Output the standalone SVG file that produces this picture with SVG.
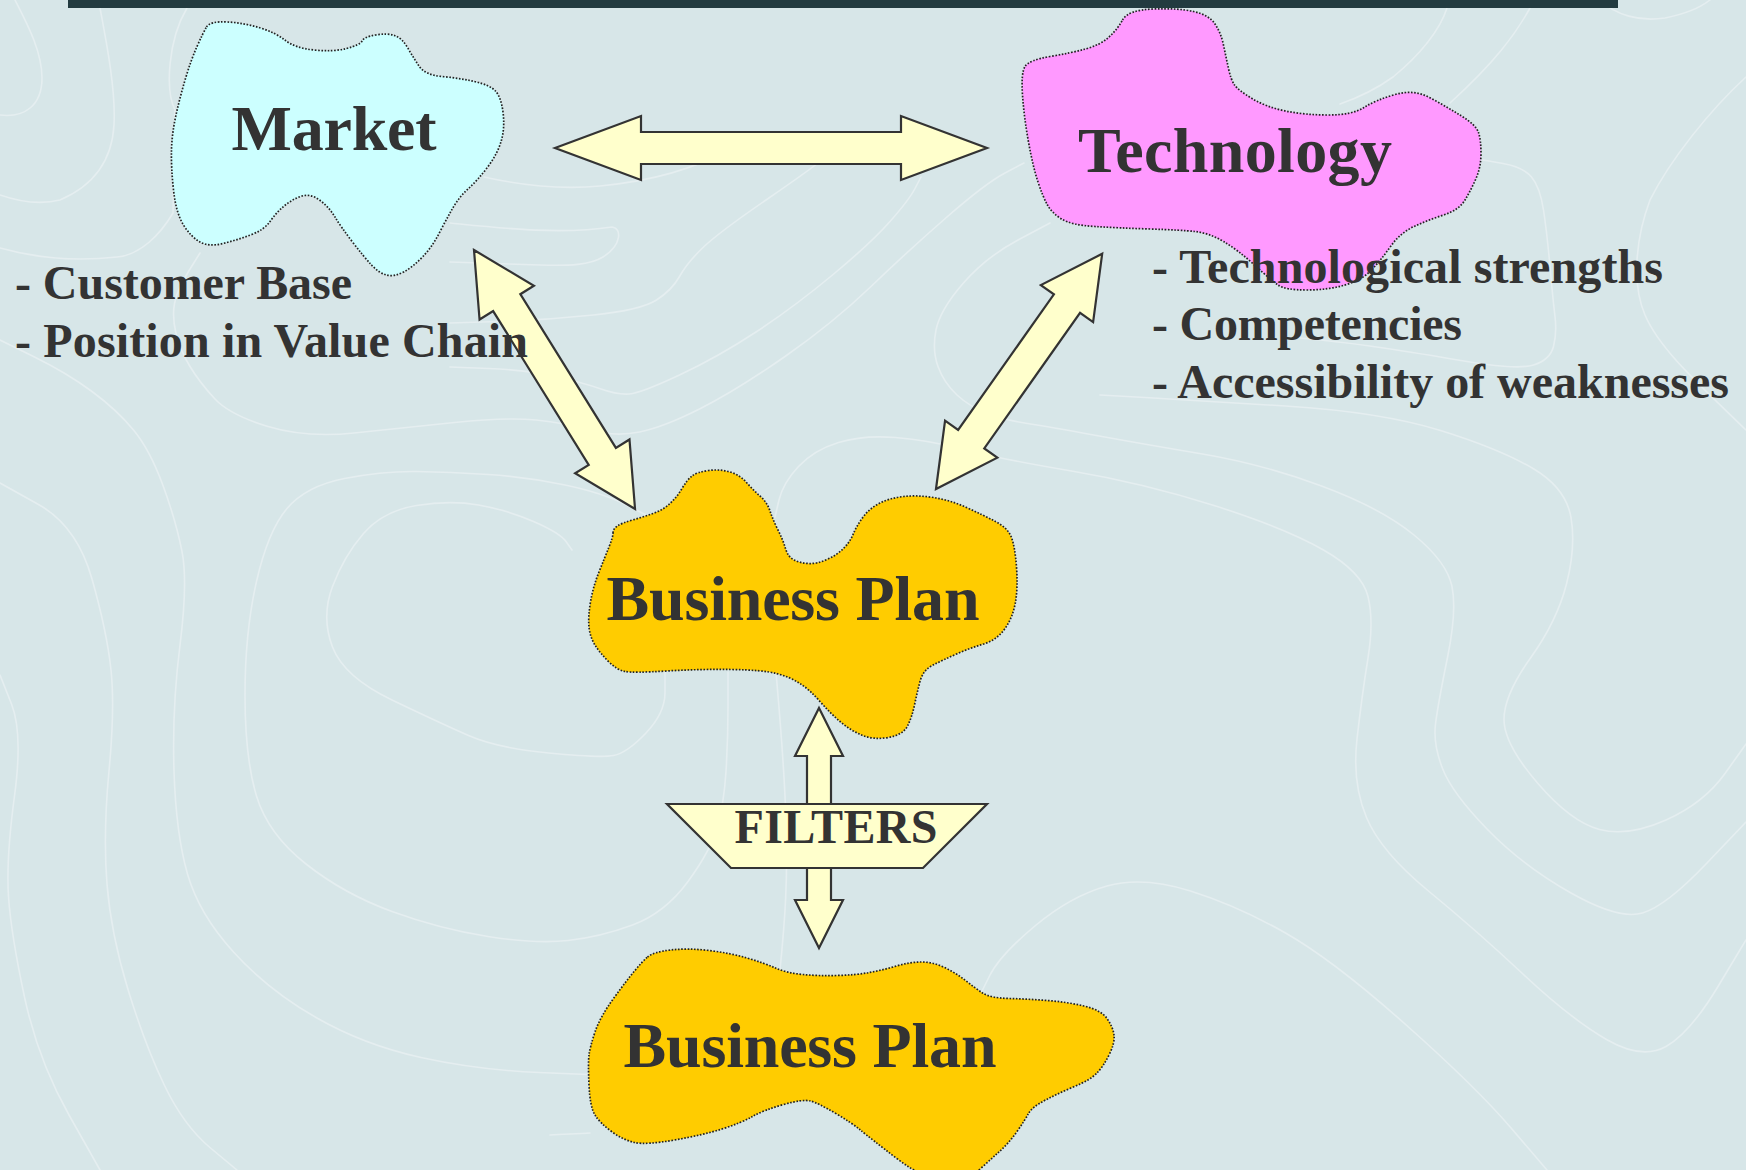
<svg xmlns="http://www.w3.org/2000/svg" width="1746" height="1170" viewBox="0 0 1746 1170">
  <defs>
    <style>
      .bg { fill: #d7e6e8; }
      .bar { fill: #233b40; }
      .contour { fill: none; stroke: #e5eef0; stroke-width: 1.6; stroke-linecap: round; }
      .cloud { stroke: #222222; stroke-width: 1.7; stroke-dasharray: 1.6 1.6; }
      .arrow { fill: #ffffcc; stroke: #333333; stroke-width: 2.2; stroke-linejoin: miter; }
      .title { font-family: "Liberation Serif", "Times New Roman", serif; font-weight: bold; font-size: 64px; fill: #333333; text-anchor: middle; }
      .bullet { font-family: "Liberation Serif", "Times New Roman", serif; font-weight: bold; font-size: 48px; fill: #333333; }
      .filter-label { font-family: "Liberation Serif", "Times New Roman", serif; font-weight: bold; font-size: 48px; fill: #333333; text-anchor: middle; }
    </style>
  </defs>

  <!-- backdrop with faint topographic contours -->
  <g id="background">
    <rect class="bg" x="0" y="0" width="1746" height="1170"/>
    <g class="contour">
      <path d="M0,483 L38.5,504.5 Q77,526 92,579 Q107,632 111,670 Q115,708 109,771 Q103,834 107,884 Q111,934 128,989.5 Q145,1045 164.5,1085.5 Q184,1126 210.5,1148 L237,1170"/>
      <path d="M0,340 L33.5,356.5 Q67,373 92,391.5 Q117,410 133.5,430 Q150,450 163,485.5 Q176,521 182,551.5 Q188,582 180,645 Q172,708 174,771 Q176,834 187.5,874 Q199,914 233.5,952 Q268,990 316,1017.5 Q364,1045 421,1057.5 Q478,1070 539,1072.5 L600,1075"/>
      <path d="M0,675 L11.5,704 Q23,733 14.5,796 Q6,859 8.5,896.5 Q11,934 24.5,997 Q38,1060 69,1115 L100,1170"/>
      <path d="M200,253 L188.5,271.5 Q177,290 174.5,303.5 Q172,317 176,333.5 Q180,350 190,366.5 Q200,383 215,399 Q230,415 268,426.5 Q306,438 354,433 Q402,428 454.5,422.5 Q507,417 536,420 Q565,423 590,430 Q615,437 639.5,432 Q664,427 700.5,408.5 Q737,390 785,356.5 Q833,323 871,286.5 Q909,250 947.5,216.5 Q986,183 1005,173 L1024,163"/>
      <path d="M650,517 L626.5,505 Q603,493 565,485 Q527,477 488.5,474.5 Q450,472 416.5,471.5 Q383,471 344.5,478.5 Q306,486 287,508.5 Q268,531 256.5,581.5 Q245,632 245,695 Q245,758 256.5,796 Q268,834 306,864 Q344,894 392,911.5 Q440,929 488,936.5 Q536,944 568,940.5 Q600,937 632.5,925 Q665,913 688,881.5 Q711,850 717.5,826.5 Q724,803 726,771.5 Q728,740 728,706 L728,672"/>
      <path d="M572,550 L566,541.5 Q560,533 533.5,521.5 Q507,510 478.5,505 Q450,500 416.5,505.5 Q383,511 363.5,533.5 Q344,556 332.5,586.5 Q321,617 332.5,647 Q344,677 392,700 Q440,723 468.5,735.5 Q497,748 548.5,753 Q600,758 613.5,755.5 Q627,753 646,733 Q665,713 665,692.5 L665,672"/>
      <path d="M979,997 L989.5,976 Q1000,955 1035.5,925.5 Q1071,896 1107,886 Q1143,876 1190.5,891 Q1238,906 1285.5,933 Q1333,960 1404.5,1023.5 Q1476,1087 1511.5,1128.5 L1547,1170"/>
      <path d="M1050,223 L1018,240 Q986,257 963,283.5 Q940,310 936,330 Q932,350 938,366.5 Q944,383 957,395 Q970,407 987.5,413.5 Q1005,420 1027.5,423.5 Q1050,427 1096.5,435.5 Q1143,444 1202.5,454 Q1262,464 1321.5,486 Q1381,508 1414,535 Q1447,562 1452,586.5 Q1457,611 1447.5,657.5 Q1438,704 1435.5,724 Q1433,744 1442.5,768.5 Q1452,793 1487.5,829.5 Q1523,866 1571,893 Q1619,920 1642.5,913 Q1666,906 1706,864 L1746,822"/>
      <path d="M775,517 L779,500 Q783,483 798.5,466.5 Q814,450 838.5,442.5 Q863,435 895.5,437.5 Q928,440 964,449.5 Q1000,459 1071.5,471 Q1143,483 1214,505.5 Q1285,528 1323.5,550 Q1362,572 1368,596.5 Q1374,621 1368,658 Q1362,695 1357,739 Q1352,783 1366.5,817.5 Q1381,852 1428.5,891 Q1476,930 1523.5,974.5 Q1571,1019 1606.5,1039.5 Q1642,1060 1666,1046.5 Q1690,1033 1718,986.5 L1746,940"/>
      <path d="M1300,338 L1325,340.5 Q1350,343 1383.5,348 Q1417,353 1467,361.5 Q1517,370 1533.5,365 Q1550,360 1553.5,346.5 Q1557,333 1555,316.5 Q1553,300 1550,266.5 Q1547,233 1543.5,210 Q1540,187 1531.5,177 Q1523,167 1503,163.5 L1483,160"/>
      <path d="M1100,395 L1145,397.5 Q1190,400 1285.5,406 Q1381,412 1440.5,430.5 Q1500,449 1533,468.5 Q1566,488 1571,517.5 Q1576,547 1566.5,584 Q1557,621 1530.5,658 Q1504,695 1504,719.5 Q1504,744 1537.5,783 Q1571,822 1599.5,829.5 Q1628,837 1666,820 Q1704,803 1725,773.5 L1746,744"/>
      <path d="M187,8 C168,40 165,90 175,110 L173,213 C160,235 140,255 117,257 C90,260 50,262 0,248"/>
      <path d="M15,0 C25,20 42,50 42,78 C42,105 25,118 0,115"/>
      <path d="M100,8 C106,40 116,90 114,125 C112,160 95,185 60,200 C40,205 20,202 0,195"/>
      <path d="M484,177 C520,185 560,190 600,186 C640,182 690,172 726,150"/>
      <path d="M450,223 C500,228 560,235 612,227 C622,228 622,245 603,257 C590,265 570,266 540,265 L450,262"/>
      <path d="M450,323 L498,321.5 Q546,320 593.5,315 Q641,310 656.5,300 Q672,290 679.5,276.5 Q687,263 702.5,248 Q718,233 766,200 Q814,167 823.5,158.5 L833,150"/>
      <path d="M450,367 L488.5,368.5 Q527,370 555.5,376.5 Q584,383 601,389 Q618,395 629.5,394 Q641,393 679.5,375 Q718,357 756,332 Q794,307 832.5,275 Q871,243 890,221.5 Q909,200 915,188.5 L921,177"/>
      <path d="M1447,8 C1440,30 1420,55 1393,77 C1375,90 1360,97 1340,104"/>
      <path d="M1530,8 C1515,35 1495,62 1450,103"/>
      <path d="M1600,0 C1615,15 1640,22 1665,18 C1685,14 1700,8 1710,0"/>
      <path d="M1746,77 C1710,110 1670,160 1650,200 C1635,240 1632,285 1645,315 C1660,350 1700,385 1746,430"/>
      <path d="M776,672 C780,720 784,760 786,820 C788,880 785,920 780,970"/>
      <path d="M550,1135 C565,1134 578,1134 590,1133"/>
    </g>
    <rect class="bar" x="68" y="0" width="1550" height="8"/>
  </g>

  <!-- block arrows linking the nodes -->
  <g id="connectors">
    <polygon id="arrow-market-technology" class="arrow" transform="translate(555,148)"
      points="0,0 86,-32 86,-16 346,-16 346,-32 432,0 346,32 346,16 86,16 86,32"/>
    <polygon id="arrow-market-plan" class="arrow" transform="translate(474,250) rotate(58.13)"
      points="0,0 62,-32 62,-16 243,-16 243,-32 305,0 243,32 243,16 62,16 62,32"/>
    <polygon id="arrow-technology-plan" class="arrow" transform="translate(936,489) rotate(-54.76)"
      points="0,0 61,-32 61,-16 227,-16 227,-32 288,0 227,32 227,16 61,16 61,32"/>
    <polygon id="arrow-plan-plan" class="arrow"
      points="819,708 843,756 831,756 831,900 843,900 819,948 795,900 807,900 807,756 795,756"/>
  </g>

  <g id="node-market">
    <path class="cloud" fill="#ccffff" d="M206.5,27 Q210,21 227.5,22 Q245,23 260.5,28 Q276,33 285.5,40.5 Q295,48 314,50 Q333,52 346.5,48.5 Q360,45 362,41 Q364,37 375.5,35 Q387,33 394.5,35.5 Q402,38 407.5,47.5 Q413,57 419,66 Q425,75 442,76.5 Q459,78 474.5,81.5 Q490,85 495.5,91 Q501,97 503,112 Q505,127 501.5,140 Q498,153 488,166.5 Q478,180 468.5,188.5 Q459,197 452.5,208.5 Q446,220 439,233.5 Q432,247 422.5,257 Q413,267 403.5,272 Q394,277 386.5,275 Q379,273 371.5,265 Q364,257 352.5,242 Q341,227 335,217 Q329,207 319.5,200 Q310,193 300.5,196.5 Q291,200 283.5,206.5 Q276,213 270,221.5 Q264,230 250.5,235 Q237,240 223,243.5 Q209,247 200,242 Q191,237 183.5,225 Q176,213 173.5,190 Q171,167 171.5,150 Q172,133 176,115 Q180,97 185.5,78.5 Q191,60 197,46.5 Q203,33 206.5,27 Z"/>
    <text class="title" x="334" y="150" textLength="205">Market</text>
    <text class="bullet" x="15" y="299" textLength="337">- Customer Base</text>
    <text class="bullet" x="15" y="357" textLength="513">- Position in Value Chain</text>
  </g>

  <g id="node-technology">
    <path class="cloud" fill="#ff99ff" d="M1122.5,20 Q1128,10 1153,9 Q1178,8 1193.5,11.5 Q1209,15 1215,24 Q1221,33 1223.5,45 Q1226,57 1228.5,68.5 Q1231,80 1234.5,85 Q1238,90 1252,98.5 Q1266,107 1285.5,111 Q1305,115 1328.5,115 Q1352,115 1364,107.5 Q1376,100 1395,94.5 Q1414,89 1430.5,98 Q1447,107 1461.5,116 Q1476,125 1478.5,132.5 Q1481,140 1481,153.5 Q1481,167 1476,178.5 Q1471,190 1465,200 Q1459,210 1443.5,215 Q1428,220 1414,226.5 Q1400,233 1390.5,246.5 Q1381,260 1371.5,270 Q1362,280 1345,285 Q1328,290 1306.5,290 Q1285,290 1278,285 Q1271,280 1254.5,265 Q1238,250 1223.5,241.5 Q1209,233 1195,231.5 Q1181,230 1150,229 Q1119,228 1095,226.5 Q1071,225 1061.5,219 Q1052,213 1047.5,205 Q1043,197 1038,182 Q1033,167 1028.5,142 Q1024,117 1022.5,95 Q1021,73 1025,66.5 Q1029,60 1050,56.5 Q1071,53 1085.5,49 Q1100,45 1108.5,37.5 Q1117,30 1122.5,20 Z"/>
    <text class="title" x="1235" y="172" font-size="65" textLength="314">Technology</text>
    <text class="bullet" x="1152" y="283" textLength="511">- Technological strengths</text>
    <text class="bullet" x="1152" y="340" textLength="310">- Competencies</text>
    <text class="bullet" x="1152" y="398" textLength="577">- Accessibility of weaknesses</text>
  </g>

  <g id="node-business-plan">
    <path class="cloud" fill="#ffcc00" d="M613,533 Q613,529 617.5,526 Q622,523 632.5,520 Q643,517 653,513.5 Q663,510 670,503.5 Q677,497 682,488.5 Q687,480 692,476 Q697,472 708.5,470.5 Q720,469 730,472 Q740,475 746.5,482.5 Q753,490 760,496 Q767,502 770,511 Q773,520 778,530 Q783,540 785.5,548.5 Q788,557 794,560 Q800,563 808.5,563.5 Q817,564 827,559.5 Q837,555 843.5,548.5 Q850,542 853.5,533.5 Q857,525 863.5,516.5 Q870,508 880,503 Q890,498 903.5,496.5 Q917,495 933.5,497.5 Q950,500 966.5,507.5 Q983,515 995.5,521.5 Q1008,528 1011.5,537.5 Q1015,547 1016.5,567 Q1018,587 1015.5,602 Q1013,617 1005,628.5 Q997,640 983.5,644 Q970,648 956.5,654 Q943,660 933,665 Q923,670 920,681.5 Q917,693 914.5,705 Q912,717 907.5,726 Q903,735 888,737.5 Q873,740 861.5,735 Q850,730 840,721.5 Q830,713 820,701.5 Q810,690 800,683.5 Q790,677 776.5,673.5 Q763,670 731.5,669.5 Q700,669 666.5,671 Q633,673 625,671.5 Q617,670 608.5,661.5 Q600,653 595,645 Q590,637 589,627 Q588,617 590.5,602 Q593,587 599,572 Q605,557 609,547 Q613,537 613,533 Z"/>
    <text class="title" x="793" y="620" textLength="373">Business Plan</text>
  </g>

  <g id="node-filters">
    <polygon class="arrow" points="667,804 987,804 923,868 731,868"/>
    <text class="filter-label" x="836" y="843" textLength="203">FILTERS</text>
  </g>

  <g id="node-business-plan-filtered">
    <path class="cloud" fill="#ffcc00" d="M647.5,957 Q653,952 670.5,950 Q688,948 709,950.5 Q730,953 747,958 Q764,963 775.5,968 Q787,973 802.5,974.5 Q818,976 837,975.5 Q856,975 869.5,972.5 Q883,970 896.5,966 Q910,962 921.5,962 Q933,962 944.5,967.5 Q956,973 965.5,980.5 Q975,988 982.5,993 Q990,998 1009,998.5 Q1028,999 1047.5,1000.5 Q1067,1002 1084,1006 Q1101,1010 1107,1018.5 Q1113,1027 1114,1035 Q1115,1043 1109,1055 Q1103,1067 1096.5,1073.5 Q1090,1080 1074.5,1086.5 Q1059,1093 1045.5,1100 Q1032,1107 1028.5,1113.5 Q1025,1120 1017,1131.5 Q1009,1143 999.5,1151.5 Q990,1160 979,1170 Q968,1180 946.5,1180 Q925,1180 897.5,1159 Q870,1138 861,1130.5 Q852,1123 835,1113 Q818,1103 810.5,1101 Q803,1099 783.5,1104.5 Q764,1110 752.5,1116.5 Q741,1123 722,1129 Q703,1135 674.5,1140 Q646,1145 634.5,1142.5 Q623,1140 611.5,1131.5 Q600,1123 595,1115 Q590,1107 589,1085 Q588,1063 589,1055 Q590,1047 595,1032 Q600,1017 613.5,998.5 Q627,980 634.5,971 Q642,962 647.5,957 Z"/>
    <text class="title" x="810" y="1067" textLength="373">Business Plan</text>
  </g>
</svg>
